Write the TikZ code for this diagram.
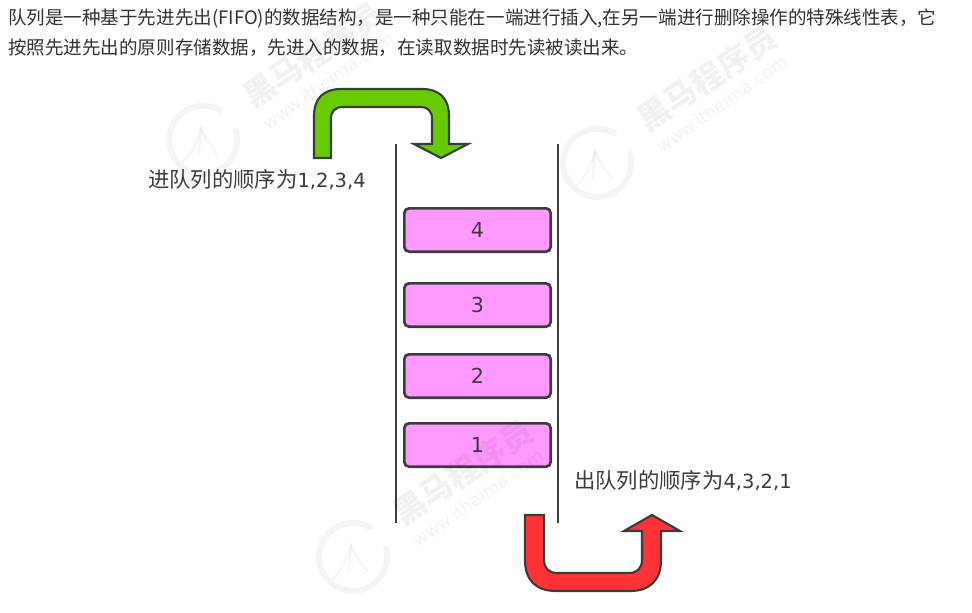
\documentclass[tikz,border=0pt]{standalone}
\usepackage{fontspec}
\setmainfont{DejaVu Sans}
\newfontfamily\cjk{Noto Sans CJK SC}
\definecolor{ink}{HTML}{3C3C3C}
\definecolor{bodyink}{HTML}{333333}
\definecolor{boxpink}{HTML}{FF99FF}
\definecolor{upgreen}{HTML}{66CC00}
\definecolor{downred}{HTML}{FF3333}
\newcommand{\cjklabel}[1]{{\cjk\fontsize{16}{18}\selectfont #1}}
\tikzset{
  x=0.75pt,y=-0.75pt,
  bodytext/.style={anchor=west,inner sep=0pt,text=bodyink,font=\cjk\fontsize{13.9}{16}\selectfont},
  labeltext/.style={anchor=west,inner sep=0pt,text=ink,font=\fontsize{14.6}{18}\selectfont},
  wall/.style={draw=ink,line width=2pt},
  item/.style={draw=ink,line width=2pt,fill=boxpink,rounded corners=3.5pt,minimum width=109.75pt,minimum height=32.5pt,inner sep=0pt,text=ink,font=\fontsize{15.5}{18}\selectfont},
  bent/.style={draw=ink,line width=1.6pt,line join=miter},
  wmark/.style={text=black,text opacity=0.055,rotate=34,inner sep=0pt,font=\cjk\bfseries\fontsize{24}{26}\selectfont},
  wurl/.style={text=black,text opacity=0.055,rotate=35,inner sep=0pt,font=\fontsize{13}{15}\selectfont},
  wring/.style={draw=black,draw opacity=0.045,line width=4.5pt,line cap=round},
  wflame/.style={draw=black,draw opacity=0.045,line width=1.6pt,line cap=round},
}
\begin{document}
\begin{tikzpicture}
\useasboundingbox (0,0) rectangle (972,612);
\fill[white] (0,0) rectangle (972,612);
% body text
\node[bodytext] (line1) at (8,18) {队列是一种基于先进先出(FIFO)的数据结构，是一种只能在一端进行插入,在另一端进行删除操作的特殊线性表，它};
\node[bodytext] (line2) at (8,48) {按照先进先出的原则存储数据，先进入的数据，在读取数据时先读被读出来。};
% walls
\coordinate (ltop) at (396,144); \coordinate (lbot) at (396,523);
\coordinate (rtop) at (558,144); \coordinate (rbot) at (558,523);
\draw[wall] (ltop) -- (lbot);
\draw[wall] (rtop) -- (rbot);
% boxes
\node[item] (b4) at (477.5,230) {4};
\node[item] (b3) at (477.5,305) {3};
\node[item] (b2) at (477.5,376) {2};
\node[item] (b1) at (477.5,445) {1};
% labels
\node[labeltext] (inlabel) at (148,180) {\cjklabel{进队列的顺序为}1,2,3,4};
\node[labeltext] (outlabel) at (574,481) {\cjklabel{出队列的顺序为}4,3,2,1};
% green arrow
\draw[bent,fill=upgreen] (314,158) -- (314,116) .. controls (314,98) and (324,89) .. (341,89)
  -- (422,89) .. controls (439,89) and (449,98) .. (449,116) -- (449,144) -- (468,144) -- (441,158) -- (414,144) -- (432,144)
  -- (432,119) .. controls (432,111) and (428,107) .. (420,107) -- (343,107) .. controls (335,107) and (331,111) .. (331,119) -- (331,158) -- cycle;
% red arrow
\draw[bent,fill=downred] (525,515) -- (525,560) .. controls (525,580) and (536,591) .. (556,591)
  -- (630,591) .. controls (650,591) and (661,580) .. (661,560) -- (661,531) -- (680,531) -- (652,515) -- (624,531) -- (642,531)
  -- (642,560) .. controls (642,568) and (637,573) .. (629,573) -- (557,573) .. controls (549,573) and (544,568) .. (544,560) -- (544,515) -- cycle;
% watermarks
\foreach \cx/\cy/\id in {203/140/a,597/163/b,353/557/c}{
  \node[wmark] (word\id) at (\cx+110,\cy-85) {黑马程序员};
  \node[wurl] (url\id) at (\cx+125,\cy-59) {www.itheima.com};
  \draw[wring] (\cx+33,\cy-9) arc (-15:300:34);
  \draw[wflame] (\cx-20,\cy+22) .. controls (\cx-6,\cy+6) and (\cx-4,\cy-4) .. (\cx-2,\cy-12)
     .. controls (\cx+2,\cy-2) and (\cx+8,\cy+6) .. (\cx+14,\cy+14);
  \draw[wflame] (\cx-2,\cy-12) -- (\cx-4,\cy+14);
}
\end{tikzpicture}
\end{document}
